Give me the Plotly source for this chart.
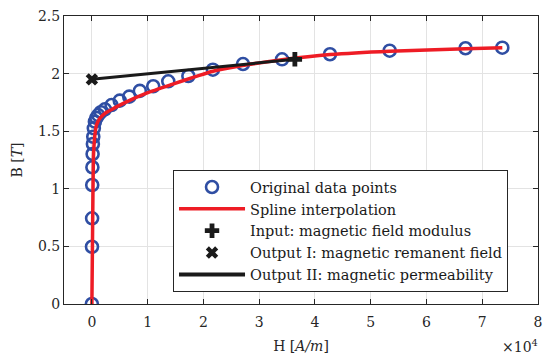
import plotly.graph_objects as go

# Original data points (H in units of 1e4 A/m, B in T)
H_data = [0, 0.002, 0.004, 0.006, 0.009, 0.013, 0.018, 0.025, 0.035, 0.054, 0.08, 0.113, 0.16,
          0.233, 0.353, 0.50, 0.67, 0.86, 1.10, 1.37, 1.73, 2.17, 2.71, 3.41, 4.27, 5.34, 6.70, 7.36]
B_data = [0, 0.497, 0.744, 1.033, 1.187, 1.302, 1.389, 1.452, 1.525, 1.583, 1.615, 1.64, 1.665,
          1.69, 1.727, 1.765, 1.80, 1.85, 1.89, 1.933, 1.979, 2.034, 2.083, 2.124, 2.168, 2.199, 2.22, 2.225]

# Spline interpolation curve
H_spline = [0, 0.01, 0.02, 0.03, 0.05, 0.08, 0.14, 0.25, 0.40, 0.60, 0.98, 1.40, 2.17, 2.70,
            3.41, 4.27, 5.34, 6.70, 7.36]
B_spline = [0, 0.5, 1.0, 1.3, 1.45, 1.55, 1.61, 1.66, 1.70, 1.75, 1.83, 1.90, 2.02, 2.07,
            2.12, 2.165, 2.195, 2.215, 2.225]

# Input / outputs
H_input = [3.64]
B_input = [2.124]
H_rem = [0]
B_rem = [1.95]
H_perm = [0, 3.64]
B_perm = [1.95, 2.124]

x_ticks = [0, 1, 2, 3, 4, 5, 6, 7, 8]
y_ticks = [0, 0.5, 1, 1.5, 2, 2.5]
y_tick_text = ["0", "0.5", "1", "1.5", "2", "2.5"]

FONT = "DejaVu Serif"
BLUE = "#2f4ea3"
RED = "#ee1c25"
BLACK = "#1a1a1a"

fig = go.Figure()
fig.add_trace(go.Scatter(x=H_data, y=B_data, mode="markers", name="Original data points",
                         marker=dict(symbol="circle-open", size=12, color=BLUE,
                                     line=dict(width=2.6, color=BLUE))))
fig.add_trace(go.Scatter(x=H_spline, y=B_spline, mode="lines", name="Spline interpolation",
                         line=dict(color=RED, width=3.5, shape="spline", smoothing=0.6)))
fig.add_trace(go.Scatter(x=H_perm, y=B_perm, mode="lines", name="Output II: magnetic permeability",
                         line=dict(color=BLACK, width=3), showlegend=False))
fig.add_trace(go.Scatter(x=H_input, y=B_input, mode="markers", name="Input: magnetic field modulus",
                         marker=dict(symbol="cross", size=12, color=BLACK,
                                     line=dict(width=0))))
fig.add_trace(go.Scatter(x=H_rem, y=B_rem, mode="markers", name="Output I: magnetic remanent field",
                         marker=dict(symbol="x", size=11, color=BLACK,
                                     line=dict(width=0))))
fig.add_trace(go.Scatter(x=[None], y=[None], mode="lines", name="Output II: magnetic permeability",
                         line=dict(color=BLACK, width=4)))

axis_common = dict(showline=True, linecolor="#262626", linewidth=1, mirror="ticks",
                   ticks="inside", ticklen=5, tickcolor="#262626", automargin=False,
                   showgrid=True, gridcolor="#e3e3e3", gridwidth=1, zeroline=False,
                   tickfont=dict(family=FONT, size=14, color="#262626"))

fig.update_layout(
    width=550, height=361,
    margin=dict(l=64, r=12, t=16, b=57),
    paper_bgcolor="white", plot_bgcolor="white",
    font=dict(family=FONT, color="#262626"),
    xaxis=dict(range=[-0.5, 8], tickvals=x_ticks, ticktext=[str(v) for v in x_ticks],
               ticklabelstandoff=5,
               title=dict(text="H [<i>A/m</i>]", font=dict(family=FONT, size=14), standoff=12),
               **axis_common),
    yaxis=dict(range=[0, 2.5], tickvals=y_ticks, ticktext=y_tick_text,
               title=dict(text="B [<i>T</i>]", font=dict(family=FONT, size=14), standoff=12),
               **axis_common),
    legend=dict(x=0.23, y=0.465, xanchor="left", yanchor="top",
                bgcolor="white", bordercolor="#262626", borderwidth=1,
                font=dict(family=FONT, size=14.5, color=BLACK),
                itemwidth=66, tracegroupgap=0),
    showlegend=True,
)
fig.add_annotation(x=1, y=0, xref="paper", yref="paper", xanchor="right", yanchor="top",
                   yshift=-31, xshift=2, showarrow=False,
                   text="×10<sup>4</sup>", font=dict(family=FONT, size=14, color="#262626"))

fig.write_html("out.html", post_script="document.body.style.margin='0';",
               config={"displayModeBar": False})
